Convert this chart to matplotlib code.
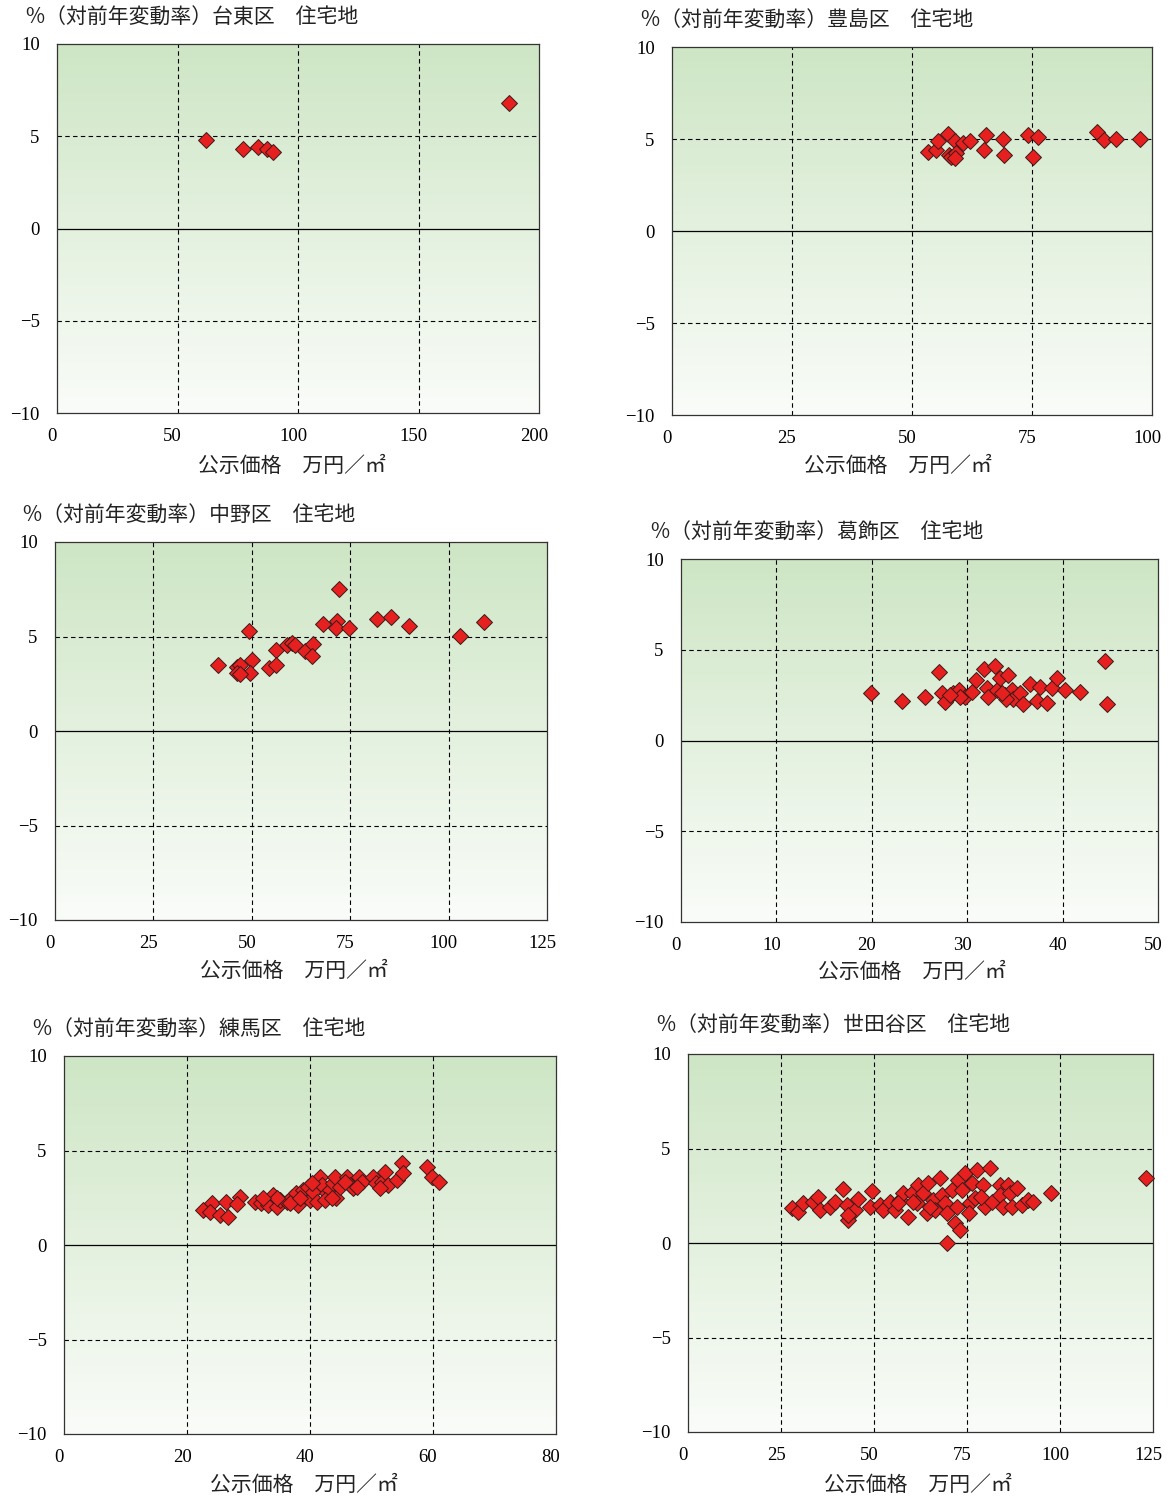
import numpy as np
import matplotlib
matplotlib.use("Agg")
import matplotlib.pyplot as plt
from matplotlib.colors import LinearSegmentedColormap
from matplotlib.transforms import ScaledTranslation

plt.rcParams['font.family'] = ['Noto Sans CJK JP', 'DejaVu Sans']
plt.rcParams['axes.unicode_minus'] = True

# ---------------- data ----------------
taito_x = [61.8, 77.3, 83.5, 87.3, 89.5, 187.7]
taito_y = [4.80, 4.29, 4.43, 4.29, 4.16, 6.82]

toshima_x = [53.4, 55.1, 55.5, 57.6, 59.0, 60.7, 62.1, 57.7, 58.2, 59.2, 59.0,
             65.4, 64.9, 68.9, 69.2, 74.2, 76.3, 75.3, 88.5, 90.0, 92.5, 97.5]
toshima_y = [4.31, 4.40, 4.90, 5.29, 4.90, 4.80, 4.90, 4.13, 4.04, 4.22, 3.95,
             5.22, 4.40, 4.98, 4.13, 5.22, 5.09, 4.01, 5.40, 4.95, 4.98, 4.98]

nakano_x = [72.2, 68.2, 71.6, 71.4, 74.8, 81.7, 85.3, 89.9, 102.9, 109.0, 49.4,
            56.2, 58.9, 60.1, 61.0, 63.5, 65.6, 65.2, 41.3, 46.2, 47.0, 50.0,
            49.5, 46.2, 47.0, 54.4, 56.2]
nakano_y = [7.50, 5.68, 5.82, 5.43, 5.47, 5.94, 6.03, 5.56, 5.03, 5.77, 5.29,
            4.29, 4.55, 4.67, 4.55, 4.25, 4.60, 3.97, 3.49, 3.40, 3.49, 3.76,
            3.05, 3.09, 3.02, 3.32, 3.49]

katsushika_x = [19.9, 23.2, 25.6, 27.0, 27.4, 27.7, 28.5, 29.1, 29.8, 30.5, 30.9,
                31.8, 32.9, 32.1, 32.2, 33.1, 33.4, 34.3, 34.0, 34.7, 34.8, 35.5,
                35.9, 36.6, 37.3, 37.6, 38.4, 38.9, 39.4, 40.3, 41.8, 44.4, 44.7,
                34.1, 33.6, 29.2, 28.2]
katsushika_y = [2.60, 2.19, 2.38, 3.79, 2.63, 2.14, 2.60, 2.78, 2.38, 2.69, 3.33,
                3.92, 4.10, 2.88, 2.42, 2.78, 3.43, 3.61, 2.51, 2.78, 2.27, 2.60,
                2.02, 3.10, 2.19, 2.96, 2.08, 2.88, 3.43, 2.78, 2.69, 4.40, 2.02,
                2.27, 2.60, 2.42, 2.51]

nerima_x = [22.65, 24.0, 23.7, 25.3, 26.7, 26.3, 28.6, 28.1, 31.1, 32.1, 33.2,
            34.0, 34.6, 35.1, 36.2, 37.0, 37.8, 38.1, 38.9, 39.7, 40.0, 40.5,
            41.6, 41.9, 42.7, 43.3, 43.8, 44.1, 44.3, 44.9, 46.0, 46.5, 47.0,
            47.9, 48.4, 50.3, 50.8, 51.7, 52.2, 52.7, 54.1, 54.9, 55.2, 59.0,
            59.8, 60.9, 36.7, 41.1, 42.4, 45.7, 38.4, 40.3, 43.5, 47.6, 51.4,
            34.6, 32.4]
nerima_y = [1.85, 2.20, 1.76, 1.59, 1.46, 2.29, 2.56, 2.17, 2.29, 2.20, 2.12,
            2.65, 2.03, 2.38, 2.29, 2.56, 2.73, 2.12, 2.91, 3.09, 2.38, 2.82,
            3.61, 3.17, 2.73, 2.91, 3.26, 3.61, 2.47, 3.09, 3.61, 3.17, 3.00,
            3.61, 3.35, 3.61, 3.26, 3.35, 3.88, 3.17, 3.44, 4.32, 3.79, 4.14,
            3.61, 3.35, 2.20, 2.29, 2.38, 3.35, 2.47, 3.26, 2.47, 3.09, 3.00,
            2.47, 2.47]

setagaya_x = [27.9, 29.7, 31.0, 33.7, 35.0, 35.5, 38.2, 39.5, 41.8, 42.7, 43.1,
              44.9, 45.8, 43.1, 48.9, 49.4, 51.6, 52.5, 54.3, 55.6, 57.0, 57.9,
              59.2, 60.1, 61.5, 61.9, 63.3, 64.2, 64.6, 65.9, 66.4, 67.7, 68.2,
              69.1, 69.5, 69.5, 70.9, 71.8, 73.1, 72.7, 73.6, 74.5, 75.8, 76.3,
              77.6, 77.2, 79.4, 79.8, 81.2, 81.6, 83.9, 83.9, 84.8, 86.1, 86.6,
              87.0, 88.4, 89.7, 91.5, 92.8, 97.5, 123.1, 60.6, 65.1, 56.4, 72.2,
              78.7, 75.5]
setagaya_y = [1.83, 1.66, 2.10, 2.19, 2.45, 1.75, 1.92, 2.19, 2.84, 2.01, 1.22,
              1.75, 2.31, 1.48, 1.92, 2.75, 2.01, 1.75, 2.19, 1.75, 2.28, 2.63,
              1.39, 2.63, 2.10, 3.07, 2.63, 1.57, 3.16, 2.28, 1.75, 3.42, 2.54,
              2.10, 1.57, 0.02, 2.80, 1.04, 0.69, 3.33, 2.80, 3.69, 2.10, 3.16,
              3.86, 2.36, 3.07, 1.92, 3.95, 2.19, 3.07, 2.54, 1.92, 3.07, 2.63,
              1.92, 2.89, 2.01, 2.28, 2.19, 2.63, 3.44, 2.19, 1.92, 2.10, 1.92,
              2.45, 1.57]

titles = ["%（対前年変動率）台東区　住宅地", "%（対前年変動率）豊島区　住宅地",
          "%（対前年変動率）中野区　住宅地", "%（対前年変動率）葛飾区　住宅地",
          "%（対前年変動率）練馬区　住宅地", "%（対前年変動率）世田谷区　住宅地"]
xlabel = "公示価格　万円／㎡"
xmaxes = [200, 100, 125, 50, 80, 125]
xsteps = [50, 25, 25, 10, 20, 25]
yticks = [-10, -5, 0, 5, 10]

# ---------------- layout (pixels) ----------------
W, H = 1175, 1497
boxes = [(57, 44, 539, 413), (672, 47, 1152, 415),
         (55, 542, 547, 920), (681, 559, 1158, 922),
         (64, 1056, 556, 1434), (688, 1054, 1153, 1432)]
title_pos = [(26, 17), (641, 20), (23, 515), (651, 532), (33, 1029), (657, 1025)]
xlabel_pos = [(292, 466), (898, 466), (294, 971), (912, 972), (304, 1485), (918, 1485)]

series = [(taito_x, taito_y), (toshima_x, toshima_y), (nakano_x, nakano_y),
          (katsushika_x, katsushika_y), (nerima_x, nerima_y), (setagaya_x, setagaya_y)]

fig = plt.figure(figsize=(W / 100, H / 100), dpi=100)
fig.patch.set_facecolor('white')

cmap = LinearSegmentedColormap.from_list(
    'g', [(0.0, (0.980, 0.988, 0.976)), (1.0, (0.808, 0.902, 0.773))])
grad = np.linspace(0, 1, 256).reshape(-1, 1)

num_font = 'Liberation Serif'
cjk = ['Noto Sans CJK JP', 'DejaVu Sans']
shift = ScaledTranslation(-5 / 100, 0, fig.dpi_scale_trans)
yshift = ScaledTranslation(-2 / 100, 0, fig.dpi_scale_trans)

for i, ((x0, y0, x1, y1), (xs, ys)) in enumerate(zip(boxes, series)):
    ax = fig.add_axes([x0 / W, 1 - y1 / H, (x1 - x0) / W, (y1 - y0) / H])
    xmax = xmaxes[i]
    ax.imshow(grad, cmap=cmap, aspect='auto', origin='lower',
              extent=[0, xmax, -10, 10], zorder=0)
    ax.set_xlim(0, xmax)
    ax.set_ylim(-10, 10)
    xt = np.arange(0, xmax + 0.1, xsteps[i])
    ax.set_xticks(xt)
    ax.set_yticks(yticks)
    ax.set_xticklabels([f"{int(v)}" for v in xt], fontfamily=num_font, fontsize=13.5)
    ax.set_yticklabels([f"{v}".replace('-', '\u2212') for v in yticks],
                       fontfamily=num_font, fontsize=13.5)
    ax.tick_params(length=0, pad=11)
    for lab in ax.get_xticklabels():
        lab.set_transform(lab.get_transform() + shift)
    for lab in ax.get_yticklabels():
        lab.set_transform(lab.get_transform() + yshift)
    for v in xt[1:-1]:
        ax.axvline(v, color='black', lw=0.8, ls=(0, (4, 3)), zorder=1)
    for v in [5, -5]:
        ax.axhline(v, color='black', lw=0.8, ls=(0, (4, 3)), zorder=1)
    ax.axhline(0, color='black', lw=0.9, zorder=1)
    for s in ax.spines.values():
        s.set_color('#333333')
        s.set_linewidth(0.9)
    ax.plot(xs, ys, ls='none', marker='D', markersize=8,
            markerfacecolor='#e5201e', markeredgecolor='#3a1a1a',
            markeredgewidth=0.7, zorder=3, clip_on=False)

    tx, ty = title_pos[i]
    fig.text(tx / W, 1 - ty / H, titles[i], fontsize=15, family=cjk,
             ha='left', va='center', color='#222222')
    lx, ly = xlabel_pos[i]
    fig.text(lx / W, 1 - ly / H, xlabel, fontsize=15, family=cjk,
             ha='center', va='center', color='#222222')

fig.savefig('out.png', dpi=100)
